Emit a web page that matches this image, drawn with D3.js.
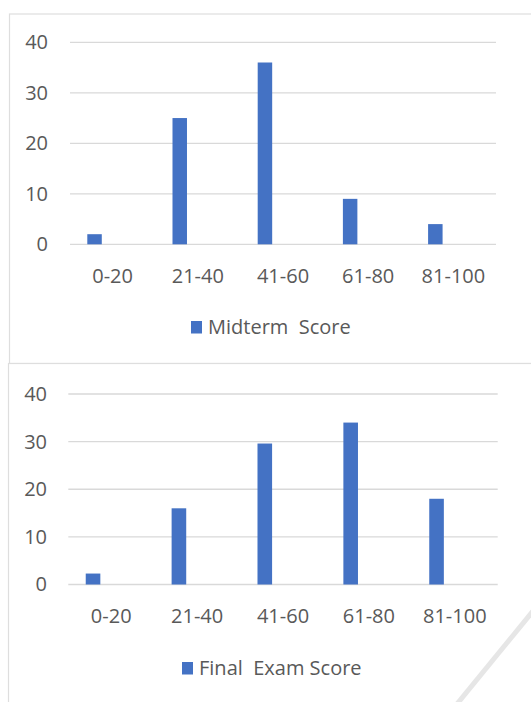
<!DOCTYPE html>
<html>
<head>
<meta charset="utf-8">
<script src="https://cdn.jsdelivr.net/npm/d3@7"></script>
<style>
  html, body { margin: 0; padding: 0; background: #fff; }
  svg { display: block; }
  text { font-family: "Open Sans", "Noto Sans", sans-serif; fill: #595959; }
</style>
</head>
<body>
<svg id="chart" width="531" height="702"></svg>
<script>
// score bands and counts
var categories = ['0-20', '21-40', '41-60', '61-80', '81-100'];
var midtermScores = [2, 25, 36, 9, 4];
var finalScores = [2.3, 16, 29.6, 34, 18];
var yTicks = [0, 10, 20, 30, 40];
var seriesNames = ['Midterm  Score', 'Final  Exam Score'];

var svg = d3.select('#chart');
var barColor = '#4472c4', gridColor = '#d9d9d9';

// panel frames (second panel sits on top of the first one)
svg.append('rect').attr('x', 9.5).attr('y', 14).attr('width', 560).attr('height', 349.5)
  .attr('fill', '#fff').attr('stroke', '#dedede').attr('stroke-width', 1.2);
svg.append('rect').attr('x', 8.5).attr('y', 363.5).attr('width', 560).attr('height', 400)
  .attr('fill', '#fff').attr('stroke', '#dedede').attr('stroke-width', 1.2);

function drawChart(values, name, box) {
  var g = svg.append('g');
  var x = d3.scaleBand().domain(categories).range([box.left, box.right]);
  var y = d3.scaleLinear().domain([0, 40]).range([box.bottom, box.top]);

  // gridlines
  g.selectAll('line.grid').data(yTicks).enter().append('line')
    .attr('class', 'grid')
    .attr('x1', box.left).attr('x2', box.right)
    .attr('y1', function(d) { return y(d); }).attr('y2', function(d) { return y(d); })
    .attr('stroke', gridColor).attr('stroke-width', 1.3);

  // y labels
  var yAxis = d3.axisLeft(y).tickValues(yTicks).tickSize(0).tickPadding(0);
  var ya = g.append('g').attr('transform', 'translate(' + box.labelRight + ',0)').call(yAxis);
  ya.select('.domain').remove();
  ya.selectAll('text').style('font-size', '20px').attr('fill', '#595959')
    .style('font-family', '"Open Sans", "Noto Sans", sans-serif');

  // bars: first of two slots in each group, the second slot is empty
  var bw = x.bandwidth();
  g.selectAll('rect.bar').data(values).enter().append('rect')
    .attr('class', 'bar')
    .attr('x', function(d, i) { return x(categories[i]) + bw * 0.203; })
    .attr('width', bw * 0.17)
    .attr('y', function(d) { return y(d); })
    .attr('height', function(d) { return y(0) - y(d); })
    .attr('fill', barColor);

  // x labels
  var xAxis = d3.axisBottom(x).tickSize(0).tickPadding(0);
  var xa = g.append('g').attr('transform', 'translate(0,' + box.xLabelY + ')').call(xAxis);
  xa.select('.domain').remove();
  xa.selectAll('text').style('font-size', '20px').attr('fill', '#595959').attr('dy', 0)
    .style('font-family', '"Open Sans", "Noto Sans", sans-serif');

  // legend
  var lg = g.append('g');
  var lt = lg.append('text').attr('x', box.legendX + 17).attr('y', box.legendY)
    .attr('font-size', 20).attr('xml:space', 'preserve').text(name);
  lg.append('rect').attr('x', box.legendX).attr('y', box.legendY - 13)
    .attr('width', 11).attr('height', 12.5).attr('fill', barColor);
}

drawChart(midtermScores, seriesNames[0], {
  left: 70, right: 496, top: 42.3, bottom: 244.3,
  labelRight: 48, xLabelY: 282.5, legendX: 191, legendY: 334
});
drawChart(finalScores, seriesNames[1], {
  left: 68.3, right: 497.7, top: 394, bottom: 584.5,
  labelRight: 47, xLabelY: 622.5, legendX: 182, legendY: 675
});

// faint diagonal stroke across the lower right corner of the picture
svg.append('line').attr('x1', 533).attr('y1', 611).attr('x2', 457).attr('y2', 704)
  .attr('stroke', '#e6e6e6').attr('stroke-width', 5);
</script>
</body>
</html>
